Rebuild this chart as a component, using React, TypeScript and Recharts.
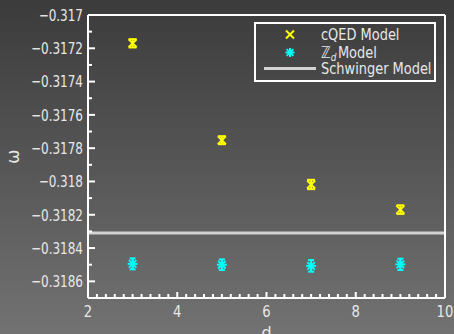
import { ComposedChart, ErrorBar, Legend, ReferenceLine, Scatter, XAxis, YAxis } from 'recharts';

const D_VALUES = [3, 5, 7, 9];
const CQED_OMEGA = [-0.31717, -0.317752, -0.318018, -0.318169];
const CQED_ERR = [0.000025, 0.000024, 0.000028, 0.000026];
const ZD_OMEGA = [-0.318495, -0.3185, -0.318507, -0.318498];
const ZD_ERR = [0.000033, 0.000032, 0.000035, 0.000034];
const SCHWINGER_OMEGA = -0.31831;

const X_TICKS = [2, 4, 6, 8, 10];
const X_LABELS = ['2', '4', '6', '8', '10'];
const Y_TICKS = [-0.3186, -0.3184, -0.3182, -0.318, -0.3178, -0.3176, -0.3174, -0.3172, -0.317];
const Y_LABELS = ['−0.3186', '−0.3184', '−0.3182', '−0.318', '−0.3178', '−0.3176', '−0.3174', '−0.3172', '−0.317'];

// minor ticks: every 0.2 on x, every 0.0001 on y
const X_ALL = Array.from({ length: 41 }, (_, i) => 2 + i * 0.2);
const Y_ALL = Array.from({ length: 18 }, (_, i) => -0.3187 + i * 0.0001);

const cqedData = D_VALUES.map((d, i) => ({ d, omega: CQED_OMEGA[i], err: CQED_ERR[i] }));
const zdData = D_VALUES.map((d, i) => ({ d, omega: ZD_OMEGA[i], err: ZD_ERR[i] }));

const FONT = 'DejaVu Sans';
const TEXT = '#e8e8e8';
const YELLOW = '#ffff00';
const CYAN = '#00ffff';
const LINE = '#d3d3d3';

const findMajor = (list: number[], v: number) => list.findIndex((t) => Math.abs(t - v) < 1e-9);

function LeftTick({ x, y, payload }: any) {
  const idx = findMajor(Y_TICKS, payload.value);
  return (
    <g>
      <line x1={x} x2={x + (idx >= 0 ? 7 : 4)} y1={y} y2={y} stroke="#fff" strokeWidth={2} />
      {idx >= 0 && (
        <text transform={`translate(${x - 5},${y}) scale(0.75,1)`} textAnchor="end" dy="0.36em"
          fontSize={16} fontFamily={FONT} fill={TEXT}>{Y_LABELS[idx]}</text>
      )}
    </g>
  );
}

function RightTick({ x, y, payload }: any) {
  const idx = findMajor(Y_TICKS, payload.value);
  return <line x1={x} x2={x - (idx >= 0 ? 7 : 4)} y1={y} y2={y} stroke="#fff" strokeWidth={2} />;
}

function BottomTick({ x, y, payload }: any) {
  const idx = findMajor(X_TICKS, payload.value);
  return (
    <g>
      <line x1={x} x2={x} y1={y} y2={y - (idx >= 0 ? 6 : 4)} stroke="#fff" strokeWidth={2} />
      {idx >= 0 && (
        <text transform={`translate(${x},${y + 14}) scale(0.88,1)`} textAnchor="middle" dy="0.36em"
          fontSize={15} fontFamily={FONT} fill={TEXT}>{X_LABELS[idx]}</text>
      )}
    </g>
  );
}

function TopTick({ x, y, payload }: any) {
  const idx = findMajor(X_TICKS, payload.value);
  return <line x1={x} x2={x} y1={y} y2={y + (idx >= 0 ? 6 : 4)} stroke="#fff" strokeWidth={2} />;
}

function Cross({ cx, cy, size = 4, color = YELLOW }: any) {
  return (
    <g stroke={color} strokeWidth={2}>
      <line x1={cx - size} y1={cy - size} x2={cx + size} y2={cy + size} />
      <line x1={cx - size} y1={cy + size} x2={cx + size} y2={cy - size} />
    </g>
  );
}

function Star({ cx, cy, size = 5, color = CYAN }: any) {
  const s = size * 0.75;
  return (
    <g stroke={color} strokeWidth={2}>
      <line x1={cx - size} y1={cy} x2={cx + size} y2={cy} />
      <line x1={cx} y1={cy - size} x2={cx} y2={cy + size} />
      <line x1={cx - s} y1={cy - s} x2={cx + s} y2={cy + s} />
      <line x1={cx - s} y1={cy + s} x2={cx + s} y2={cy - s} />
    </g>
  );
}

function LegendBox() {
  return (
    <svg width={184} height={62} style={{ display: 'block' }}>
      <rect x={1} y={1} width={180} height={58} fill="none" stroke="#fff" strokeWidth={2} />
      <Cross cx={36} cy={12.5} size={4} />
      <Star cx={36} cy={30.5} size={4.5} />
      <line x1={10} x2={62} y1={46.5} y2={46.5} stroke={LINE} strokeWidth={3} />
      <g fontFamily={FONT} fontSize={16} fill={TEXT}>
        <text transform="translate(67,18) scale(0.81,1)">cQED Model</text>
        <text transform="translate(67,36) scale(0.81,1)">
          <tspan>ℤ</tspan>
          <tspan fontSize={11} fontStyle="italic" dy={3}>d</tspan>
          <tspan dy={-3} dx={2}>Model</tspan>
        </text>
        <text transform="translate(67,51.5) scale(0.81,1)">Schwinger Model</text>
      </g>
    </svg>
  );
}

function XTitle({ viewBox }: any) {
  return (
    <text x={viewBox.x + viewBox.width / 2} y={viewBox.y + 40} textAnchor="middle"
      fontSize={16} fontFamily={FONT} fill={TEXT}>d</text>
  );
}

function YTitle({ viewBox }: any) {
  return (
    <text transform={`translate(14,${viewBox.y + viewBox.height / 2}) rotate(-90)`} textAnchor="middle"
      dy="0.28em" fontSize={17} fontFamily={FONT} fill={TEXT}>ω</text>
  );
}

export default function App() {
  return (
    <div style={{ position: 'absolute', left: 0, top: 0, width: 454, height: 334,
      background: 'linear-gradient(to bottom, #3b3b3b, #727272)' }}>
      <ComposedChart width={454} height={334} margin={{ top: 0, right: 0, bottom: 0, left: 0 }}>
        <XAxis xAxisId="b" dataKey="d" type="number" domain={[2, 10]} ticks={X_ALL} interval={0}
          height={36} tickSize={0} tickMargin={0} tickLine={false} tick={<BottomTick />}
          axisLine={{ stroke: '#fff', strokeWidth: 2 }} label={<XTitle />} />
        <XAxis xAxisId="t" orientation="top" type="number" domain={[2, 10]} ticks={X_ALL} interval={0}
          height={15} tickSize={0} tickMargin={0} tickLine={false} tick={<TopTick />}
          axisLine={{ stroke: '#fff', strokeWidth: 2 }} />
        <YAxis yAxisId="l" dataKey="omega" type="number" domain={[-0.3187, -0.317]} ticks={Y_ALL} interval={0}
          width={88} tickSize={0} tickMargin={0} tickLine={false} tick={<LeftTick />}
          axisLine={{ stroke: '#fff', strokeWidth: 2 }} label={<YTitle />} />
        <YAxis yAxisId="r" orientation="right" type="number" domain={[-0.3187, -0.317]} ticks={Y_ALL} interval={0}
          width={9} tickSize={0} tickMargin={0} tickLine={false} tick={<RightTick />}
          axisLine={{ stroke: '#fff', strokeWidth: 2 }} />
        <ReferenceLine xAxisId="b" yAxisId="l" y={SCHWINGER_OMEGA} stroke={LINE} strokeWidth={3} />
        <Scatter name="cQED Model" xAxisId="b" yAxisId="l" data={cqedData} dataKey="omega"
          isAnimationActive={false} shape={(p: any) => <Cross cx={p.cx} cy={p.cy} size={4} />}>
          <ErrorBar dataKey="err" direction="y" width={4} stroke={YELLOW} strokeWidth={2} />
        </Scatter>
        <Scatter name="Zd Model" xAxisId="b" yAxisId="l" data={zdData} dataKey="omega"
          isAnimationActive={false} shape={(p: any) => <Star cx={p.cx} cy={p.cy} size={5} />}>
          <ErrorBar dataKey="err" direction="y" width={3} stroke={CYAN} strokeWidth={2} />
        </Scatter>
        <Legend layout="vertical" verticalAlign="middle" align="center" content={<LegendBox />}
          wrapperStyle={{ left: 254, top: 22, width: 184, height: 62 }} />
      </ComposedChart>
    </div>
  );
}
